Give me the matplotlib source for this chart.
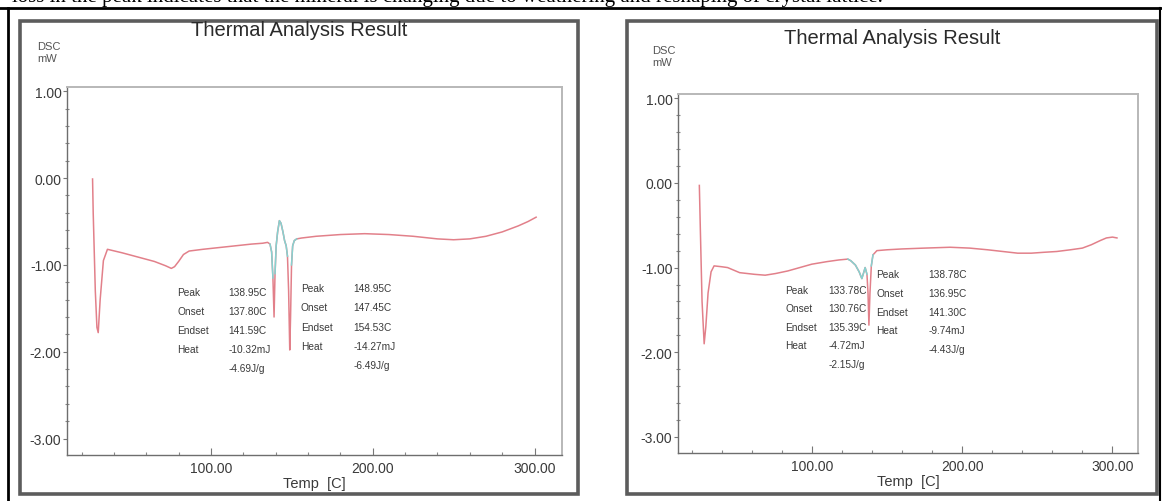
import numpy as np
import matplotlib
matplotlib.use("Agg")
import matplotlib.pyplot as plt
from matplotlib.patches import Rectangle
from matplotlib.lines import Line2D
from matplotlib.ticker import MultipleLocator, FormatStrFormatter

plt.rcParams['font.family'] = ['Liberation Sans', 'DejaVu Sans']

# ---- data ----
temp_a = [26.8, 27.2, 28.5, 29.5, 30.3, 31.5, 33.5, 36, 45, 55, 65, 72, 75.5, 77.5, 80, 83, 86.5,
          95, 105, 115, 125, 132, 135, 136.5, 137.5, 138.3, 139.0, 139.6, 140.3, 141.2, 142.3,
          143.3, 144.5, 145.5, 146.5, 147.3, 148.0, 148.7, 149.2, 149.8, 150.5, 151.5, 153, 156,
          165, 180, 195, 210, 225, 240, 250, 260, 270, 280, 290, 296, 301]
dsc_a = [-0.01, -0.4, -1.3, -1.72, -1.78, -1.4, -0.95, -0.82, -0.86, -0.91, -0.96, -1.01, -1.04,
         -1.02, -0.96, -0.88, -0.84, -0.82, -0.80, -0.78, -0.76, -0.75, -0.74, -0.76, -0.85, -1.15,
         -1.6, -1.1, -0.78, -0.62, -0.49, -0.52, -0.62, -0.72, -0.78, -0.9, -1.3, -1.98, -1.6, -1.0,
         -0.78, -0.72, -0.70, -0.69, -0.67, -0.65, -0.64, -0.65, -0.67, -0.70, -0.71, -0.70, -0.67,
         -0.62, -0.55, -0.50, -0.45]

temp_b = [25.2, 25.8, 27, 28.4, 29.5, 31, 33, 35, 40, 44, 48, 52, 57, 62, 69, 76, 84, 92, 100,
          110, 118, 124, 126, 129, 131.5, 133.3, 134.5, 135.5, 136.7, 137.4, 138.0, 138.7, 139.6,
          140.7, 143.3, 150, 160, 175, 192, 205, 217, 227, 237, 246, 254, 263, 272, 280, 286, 292,
          296, 300, 303]
dsc_b = [-0.03, -0.5, -1.4, -1.9, -1.7, -1.3, -1.05, -0.98, -0.99, -1.0, -1.03, -1.06, -1.07,
         -1.08, -1.09, -1.07, -1.04, -1.0, -0.96, -0.93, -0.91, -0.90, -0.92, -0.97, -1.05, -1.13,
         -1.06, -1.0, -1.08, -1.3, -1.68, -1.3, -0.98, -0.85, -0.80, -0.79, -0.78, -0.77, -0.76,
         -0.77, -0.79, -0.81, -0.83, -0.83, -0.82, -0.81, -0.79, -0.77, -0.73, -0.68, -0.65, -0.64,
         -0.65]

row_names = ["Peak", "Onset", "Endset", "Heat", ""]
peaks_a = [["138.95C", "137.80C", "141.59C", "-10.32mJ", "-4.69J/g"],
           ["148.95C", "147.45C", "154.53C", "-14.27mJ", "-6.49J/g"]]
peaks_b = [["133.78C", "130.76C", "135.39C", "-4.72mJ", "-2.15J/g"],
           ["138.78C", "136.95C", "141.30C", "-9.74mJ", "-4.43J/g"]]

yticks = [1.0, 0.0, -1.0, -2.0, -3.0]
xticks = [100, 200, 300]

RED = '#e2808a'
CYAN = '#86d2d0'
TXT = '#3a3a3a'

W, H = 1162, 502
fig = plt.figure(figsize=(W / 100, H / 100), dpi=100)


def px_rect(x0, y0, x1, y1):
    # pixel box (top-left origin) -> figure fraction rect
    return [x0 / W, 1 - y1 / H, (x1 - x0) / W, (y1 - y0) / H]


def panel(box, axbox, title_y, temp, dsc, cyan_range, cyan_floor, tables, tab_pos, unit_y):
    bx = px_rect(*box)
    fig.patches.append(Rectangle((bx[0], bx[1]), bx[2], bx[3], transform=fig.transFigure,
                                 fill=False, edgecolor='#5c5c5c', lw=2.6, zorder=0))
    ax = fig.add_axes(px_rect(*axbox))
    ax.plot(temp, dsc, color=RED, lw=1.1, zorder=2)
    t = np.array(temp)
    d = np.array(dsc)
    keep = (t >= cyan_range[0]) & (t <= cyan_range[1])
    dc = np.where(d > cyan_floor, d, np.nan)
    ax.plot(t[keep], dc[keep], color=CYAN, lw=1.1, zorder=3)

    ax.set_xlim(11, 317)
    ax.set_ylim(-3.19, 1.05)
    ax.set_xticks(xticks)
    ax.set_yticks(yticks)
    ax.xaxis.set_minor_locator(MultipleLocator(20))
    ax.yaxis.set_minor_locator(MultipleLocator(0.2))
    ax.xaxis.set_major_formatter(FormatStrFormatter('%.2f'))
    ax.yaxis.set_major_formatter(FormatStrFormatter('%.2f'))
    ax.tick_params(axis='x', which='major', direction='in', length=5, width=0.8,
                   colors='#777777', labelcolor=TXT, labelsize=10, pad=4)
    ax.tick_params(axis='x', which='minor', direction='in', length=2.5, width=0.8, colors='#888888')
    ax.tick_params(axis='y', which='major', direction='out', length=3, width=0.8,
                   colors='#777777', labelcolor=TXT, labelsize=10, pad=1)
    ax.tick_params(axis='y', which='minor', direction='inout', length=3, width=0.8, colors='#888888')
    for s in ['top', 'right']:
        ax.spines[s].set_color('#b8b8b8')
        ax.spines[s].set_linewidth(1.4)
    for s in ['left', 'bottom']:
        ax.spines[s].set_color('#6e6e6e')
        ax.spines[s].set_linewidth(1.0)
    ax.set_xlabel('Temp  [C]', color=TXT, fontsize=10.5, labelpad=1)

    # peak tables
    for (lx, vx, y0), vals in zip(tab_pos, tables):
        for i, (name, val) in enumerate(zip(row_names, vals)):
            yy = y0 - 0.22 * i
            ax.text(lx, yy, name, fontsize=7.3, color=TXT, va='center', ha='left')
            ax.text(vx, yy, val, fontsize=7.3, color=TXT, va='center', ha='left')

    # title and unit label
    cx = (box[0] + box[2]) / 2 / W
    fig.text(cx, 1 - title_y / H, 'Thermal Analysis Result', ha='center', va='center',
             fontsize=14.5, color='#2a2a2a')
    fig.text(unit_y[0] / W, 1 - unit_y[1] / H, 'DSC', fontsize=8, color='#555555', va='center')
    fig.text(unit_y[0] / W, 1 - (unit_y[1] + 12) / H, 'mW', fontsize=8, color='#555555', va='center')
    return ax


panel((20, 22, 578, 495), (67, 88, 562, 456), 31, temp_a, dsc_a, (135.5, 153.5), -1.2,
      peaks_a, [(79, 111, -1.31), (155.5, 188, -1.27)], (37, 47))
panel((627, 22, 1157, 495), (678, 95, 1138, 454), 38, temp_b, dsc_b, (123, 142), -1.3,
      peaks_b, [(82.5, 111, -1.26), (143, 177.5, -1.08)], (652, 51))

# table frame of the page and the clipped sentence above it
fig.lines.append(Line2D([0, 1], [1 - 9 / H, 1 - 9 / H], transform=fig.transFigure, color='black', lw=2))
fig.lines.append(Line2D([8 / W, 8 / W], [0, 1 - 9 / H], transform=fig.transFigure, color='black', lw=2))
fig.lines.append(Line2D([1160 / W, 1160 / W], [0, 1 - 9 / H], transform=fig.transFigure, color='black', lw=1.5))
fig.text(0.01, 1 - 2 / H, 'loss in the peak indicates that the mineral is changing due to weathering and reshaping of crystal lattice.',
         family=['Liberation Serif', 'DejaVu Serif'], fontsize=15, va='baseline', ha='left', color='black')

fig.savefig('out.png', dpi=100)
